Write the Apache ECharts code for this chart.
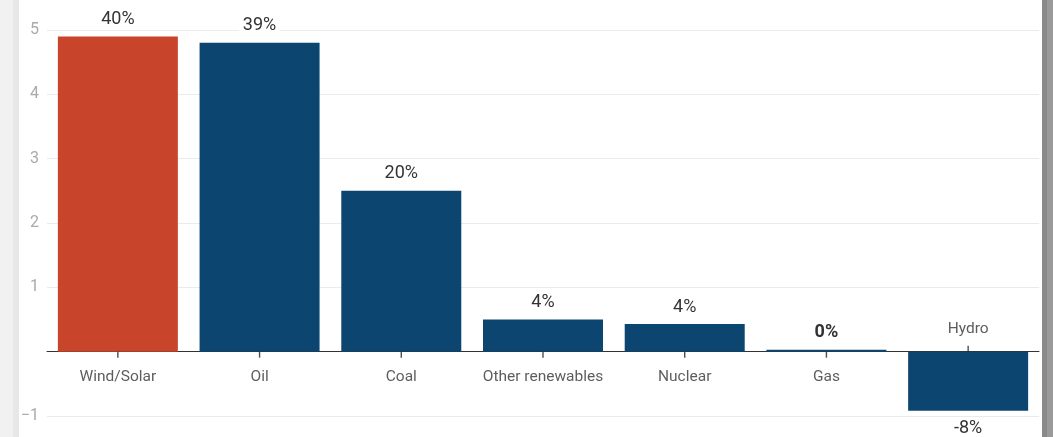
<!DOCTYPE html>
<html>
<head>
<meta charset="utf-8">
<script src="https://cdn.jsdelivr.net/npm/echarts@6/dist/echarts.min.js"></script>
<style>
  html, body { margin: 0; padding: 0; width: 1053px; height: 437px; overflow: hidden; background: #fff; }
  #edgeL1 { position: absolute; left: 0; top: 0; width: 13px; height: 437px; background: #f1f1f1; }
  #edgeL2 { position: absolute; left: 13px; top: 0; width: 6px; height: 437px; background: #e7e7e7; }
  #edgeR1 { position: absolute; left: 1042px; top: 0; width: 5px; height: 437px; background: #8a8a8a; }
  #edgeR2 { position: absolute; left: 1047px; top: 0; width: 6px; height: 437px; background: #9a9a9a; }
  #chart { position: absolute; left: 0; top: 0; width: 1053px; height: 437px; }
</style>
</head>
<body>
<div id="edgeL1"></div><div id="edgeL2"></div>
<div id="edgeR1"></div><div id="edgeR2"></div>
<div id="chart"></div>
<script>
// Change in demand by energy source, with each source's share of the total
const categories = ['Wind/Solar', 'Oil', 'Coal', 'Other renewables', 'Nuclear', 'Gas', 'Hydro'];
const values = [4.9, 4.8, 2.5, 0.5, 0.43, 0.03, -0.92];
const shareLabels = ['40%', '39%', '20%', '4%', '4%', '0%', '-8%'];
const barColors = ['#c8452c', '#0c4670', '#0c4670', '#0c4670', '#0c4670', '#0c4670', '#0c4670'];
const yTicks = [-1, 0, 1, 2, 3, 4, 5];

const FONT = 'Roboto, "Noto Sans", sans-serif';
const chart = echarts.init(document.getElementById('chart'), null, { renderer: 'canvas' });

const barData = values.map((v, i) => ({
  value: v,
  itemStyle: { color: barColors[i] },
  label: {
    position: v < 0 ? 'bottom' : 'top',
    distance: v < 0 ? 9 : 8,
    fontWeight: shareLabels[i] === '0%' ? 'bold' : 'normal'
  }
}));

// Category names sit on the zero line: below it for gains, above it for losses,
// each with a short tick pointing towards its label.
const nameData = values.map((v, i) => ({
  value: 0,
  symbolOffset: [0, v < 0 ? -3 : 3],
  label: { position: v < 0 ? 'top' : 'bottom', distance: v < 0 ? 9 : 11 }
}));

chart.setOption({
  animation: false,
  grid: { left: 47, right: 14, top: 30, bottom: 21, containLabel: false, outerBoundsMode: 'none' },
  xAxis: {
    type: 'category',
    data: categories,
    axisLine: { onZero: true, lineStyle: { color: '#333', width: 1 } },
    axisTick: { show: false },
    axisLabel: { show: false },
    splitLine: { show: false }
  },
  yAxis: {
    type: 'value',
    min: yTicks[0],
    max: yTicks[yTicks.length - 1],
    interval: 1,
    axisLine: { show: false },
    axisTick: { show: false },
    axisLabel: {
      color: '#aaa', fontSize: 16, fontFamily: FONT, margin: 8,
      formatter: (v) => v === 0 ? '' : (v < 0 ? '\u2212' + Math.abs(v) : String(v))
    },
    splitLine: { lineStyle: { color: '#ebebeb', width: 1 } }
  },
  series: [
    {
      type: 'bar',
      data: barData,
      barWidth: 120,
      label: {
        show: true,
        color: '#333',
        fontSize: 18,
        fontFamily: FONT,
        backgroundColor: '#fff',
        padding: [0, 4],
        formatter: (p) => shareLabels[p.dataIndex]
      }
    },
    {
      type: 'scatter',
      data: nameData,
      symbol: 'rect',
      symbolSize: [1.4, 6],
      itemStyle: { color: '#222' },
      silent: true,
      z: 5,
      label: {
        show: true,
        color: '#333',
        fontSize: 15.5,
        fontFamily: FONT,
        formatter: (p) => categories[p.dataIndex]
      }
    }
  ]
});
</script>
</body>
</html>
